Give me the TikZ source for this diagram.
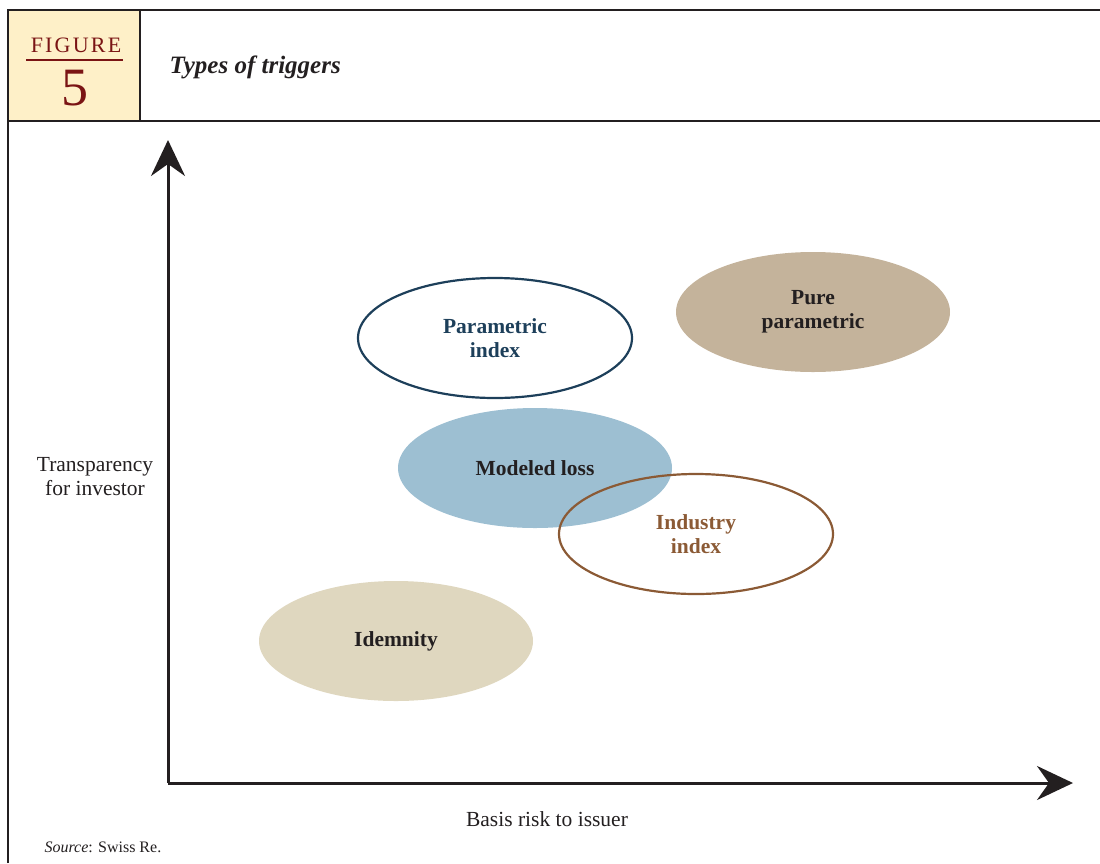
\documentclass[tikz,border=0pt]{standalone}
\usepackage{fontspec}
\setmainfont{Liberation Serif}
\usetikzlibrary{arrows.meta,shapes.geometric}
\definecolor{figfill}{HTML}{FEF0C8}
\definecolor{figred}{HTML}{7A1414}
\definecolor{frame}{HTML}{231F20}
\definecolor{pblue}{HTML}{1D3F5A}
\definecolor{purefill}{HTML}{C4B39B}
\definecolor{modfill}{HTML}{9DBFD2}
\definecolor{indbrown}{HTML}{8B5A35}
\definecolor{idemfill}{HTML}{DFD7BF}
\definecolor{txt}{HTML}{231F20}
\tikzset{
  blob/.style={ellipse, minimum width=274pt, minimum height=120pt, inner sep=0pt, align=center,
    font=\fontsize{21.5}{24}\selectfont\bfseries, text=txt},
  axis/.style={draw=frame, line width=3pt, -{Stealth[length=36pt,width=34pt,inset=12pt]}},
  lab/.style={font=\fontsize{21.5}{24}\selectfont, text=txt, align=center},
}
\begin{document}
\begin{tikzpicture}[x=1pt,y=-1pt]
\useasboundingbox (0,0) rectangle (1100,863);
% header
\fill[figfill] (8,10) rectangle (140,121);
\draw[frame, line width=1.5pt] (8,863) -- (8,10) -- (1100,10);
\draw[frame, line width=1.5pt] (8,121) -- (1100,121);
\draw[frame, line width=1.2pt] (140,10) -- (140,121);
\node[text=figred, font=\fontsize{22}{22}\selectfont\addfontfeature{LetterSpace=10}] (figlab) at (76,45) {FIGURE};
\draw[figred, line width=1.2pt] (26,60) -- (123,60);
\node[text=figred, font=\fontsize{54}{54}\selectfont] (fignum) at (75,88) {5};
\node[anchor=west, text=txt, font=\fontsize{25}{28}\selectfont\bfseries\itshape] (title) at (166,67) {Types of triggers};
% axes
\coordinate (origin) at (168,783);
\coordinate (ytip) at (168,140);
\coordinate (xtip) at (1073,783);
\draw[axis] (origin) -- (ytip);
\draw[axis] (origin) -- (xtip);
% ellipses
\node[blob, fill=purefill] (pure) at (813,312) {Pure\\parametric};
\node[blob, draw=pblue, line width=2.2pt, text=pblue] (param) at (495,338) {Parametric\\index};
\node[blob, fill=modfill] (model) at (535,468) {Modeled loss};
\node[blob, draw=indbrown, line width=2.2pt, text=indbrown] (indus) at (696,534) {Industry\\index};
\node[blob, fill=idemfill] (idem) at (396,641) {Idemnity};
% labels
\node[lab] (ylab) at (95,477) {Transparency\\for investor};
\node[lab] (xlab) at (547,819) {Basis risk to issuer};
\node[anchor=west, text=txt, font=\fontsize{16}{18}\selectfont] (src) at (41,847) {\textit{Source}: Swiss Re.};
\end{tikzpicture}
\end{document}
